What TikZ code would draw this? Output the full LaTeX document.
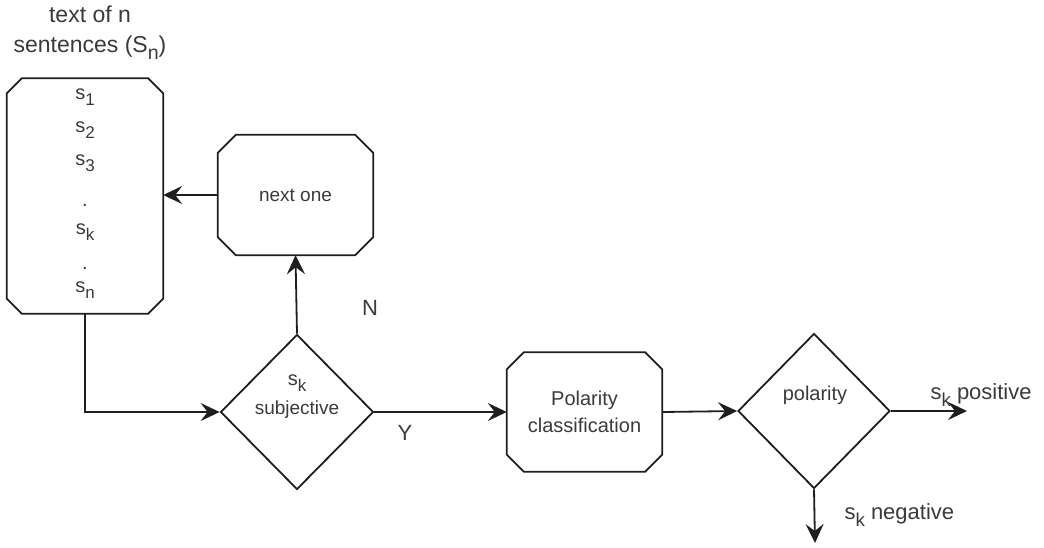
\documentclass[tikz,border=0pt]{standalone}
\usepackage{fontspec}
\setmainfont{Liberation Sans}
\usetikzlibrary{shapes.geometric,arrows.meta}
\newcommand\lsub[1]{\raisebox{-0.55ex}{\scalebox{0.85}{#1}}}
\definecolor{ink}{HTML}{1E1E1E}
\definecolor{txt}{HTML}{3A3A3A}
\newcommand\chamfbox[2]{%
  \draw[ink,line width=1.8pt,line join=miter]
    ([xshift=#2]#1.north west) -- ([xshift=-#2]#1.north east) --
    ([yshift=-#2]#1.north east) -- ([yshift=#2]#1.south east) --
    ([xshift=-#2]#1.south east) -- ([xshift=#2]#1.south west) --
    ([yshift=#2]#1.south west) -- ([yshift=-#2]#1.north west) -- cycle;}
\begin{document}
\begin{tikzpicture}[x=1pt,y=-1pt,
  every node/.style={text=txt,font=\fontsize{20}{27}\selectfont},
  boxn/.style={rectangle,inner sep=0pt,align=center},
  dia/.style={diamond,draw=ink,line width=1.8pt,inner sep=0pt,aspect=1},
  lbl/.style={font=\fontsize{22}{26}\selectfont},
  arr/.style={draw=ink,line width=1.8pt,-{Stealth[length=19pt,width=18pt,inset=7pt]}}]
\useasboundingbox (0,0) rectangle (1044,547);

% title
\node[align=center,font=\fontsize{23}{30}\selectfont] (title) at (90,33) {text of n\\sentences (S\lsub{n})};

% list box
\node[boxn,minimum width=156pt,minimum height=235pt] (list) at (85,196) {};
\chamfbox{list}{15pt}
\node (s1) at (85,97) {s\lsub{1}};
\node (s2) at (85,130) {s\lsub{2}};
\node (s3) at (85,163) {s\lsub{3}};
\node (d1t) at (85,205) {.};
\node (sk) at (85,232) {s\lsub{k}};
\node (d2t) at (85,268) {.};
\node (sn) at (85,290) {s\lsub{n}};

% next one
\node[boxn,minimum width=155pt,minimum height=120pt,font=\fontsize{19}{24}\selectfont] (next) at (295.5,195) {next one};
\chamfbox{next}{18pt}

% subjective diamond
\node[dia,minimum width=153pt,minimum height=155pt] (subj) at (297,412) {};
\node (subjk) at (297,383) {s\lsub{k}};
\node[font=\fontsize{19}{24}\selectfont] (subjt) at (297,410) {subjective};

% polarity classification
\node[boxn,minimum width=155pt,minimum height=119pt] (pol) at (584.5,412) {Polarity\\classification};
\chamfbox{pol}{17pt}

% polarity diamond
\node[dia,minimum width=152pt,minimum height=155pt] (pd) at (814,411) {};
\node (pdt) at (815,395) {polarity};

% labels
\node[lbl] (N) at (370,308) {N};
\node[lbl] (Y) at (405,433) {Y};
\node[lbl,anchor=west] (pos) at (927,395) {s\lsub{k} positive};
\node[lbl,anchor=west] (neg) at (841,515) {s\lsub{k} negative};

\coordinate (posend) at (967,411);
\coordinate (negend) at (815,543);

% connectors
\draw[arr] (list.south) |- (subj.west);
\draw[arr] (subj.north) -- (next.south);
\draw[arr] (next.west) -- (next.west -| list.east);
\draw[arr] (subj.east) -- (pol.west);
\draw[arr] (pol.east) -- (pd.west);
\draw[arr] (pd.east) -- (posend);
\draw[arr] (pd.south) -- (negend);
\end{tikzpicture}
\end{document}
